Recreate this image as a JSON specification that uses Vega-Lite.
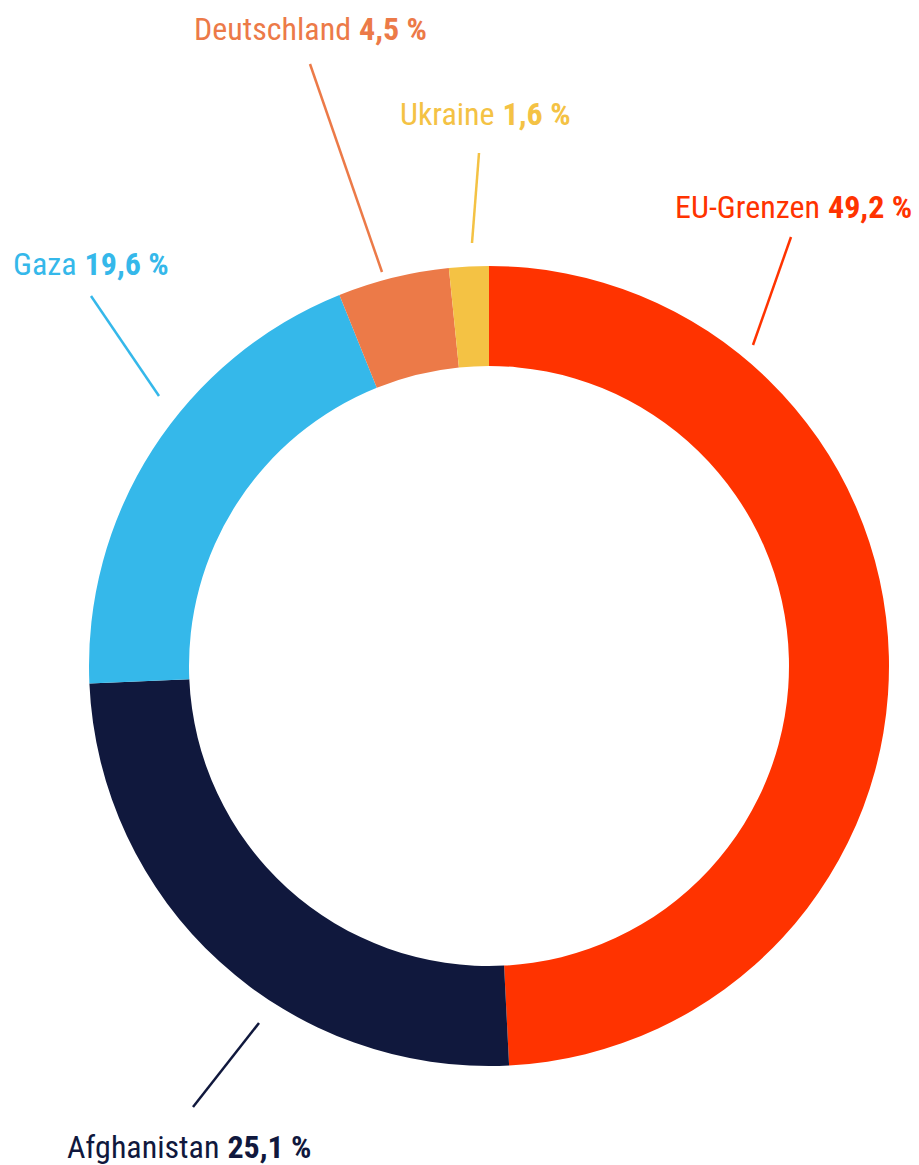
{
  "$schema": "https://vega.github.io/schema/vega-lite/v6.json",
  "width": 919,
  "height": 1165,
  "autosize": {"type": "fit", "contains": "padding"},
  "padding": 0,
  "background": "#ffffff",
  "config": {"view": {"stroke": null}},
  "datasets": {
    "slices": [
      {"region": "EU-Grenzen", "share": 49.2, "rank": 1},
      {"region": "Afghanistan", "share": 25.1, "rank": 2},
      {"region": "Gaza", "share": 19.6, "rank": 3},
      {"region": "Deutschland", "share": 4.5, "rank": 4},
      {"region": "Ukraine", "share": 1.6, "rank": 5}
    ],
    "labels": [
      {"region": "EU-Grenzen", "value": "49,2 %", "lx": 83.75, "ly": 112.0, "ax": 75.5, "ay": 107.25, "bx": 66.0, "by": 80.25},
      {"region": "Afghanistan", "value": "25,1 %", "lx": -66.4, "ly": -123.0, "ax": -57.5, "ay": -89.25, "bx": -74.0, "by": -110.25},
      {"region": "Gaza", "value": "19,6 %", "lx": -102.1, "ly": 97.75, "ax": -99.5, "ay": 92.5, "bx": -82.5, "by": 67.5},
      {"region": "Deutschland", "value": "4,5 %", "lx": -33.5, "ly": 156.5, "ax": -44.75, "ay": 150.5, "bx": -26.75, "by": 98.5},
      {"region": "Ukraine", "value": "1,6 %", "lx": 2.4, "ly": 135.25, "ax": -2.5, "ay": 128.25, "bx": -4.25, "by": 105.75}
    ]
  },
  "layer": [
    {
      "data": {"name": "slices"},
      "mark": {"type": "arc", "outerRadius": 400, "innerRadius": 300, "stroke": null},
      "encoding": {
        "theta": {"field": "share", "type": "quantitative", "stack": true},
        "order": {"field": "rank", "type": "quantitative"},
        "x": {"datum": 0, "type": "quantitative", "scale": {"domain": [-122.25, 107.5], "nice": false, "zero": false}, "axis": null},
        "y": {"datum": 0, "type": "quantitative", "scale": {"domain": [-124.75, 166.5], "nice": false, "zero": false}, "axis": null},
        "color": {
          "field": "region", "type": "nominal", "legend": null,
          "scale": {"domain": ["EU-Grenzen", "Afghanistan", "Gaza", "Deutschland", "Ukraine"], "range": ["#FF3300", "#10183D", "#35B8EA", "#EC7A48", "#F4C244"]}
        }
      }
    },
    {
      "data": {"name": "labels"},
      "mark": {"type": "rule", "strokeWidth": 2.5},
      "encoding": {
        "x": {"field": "ax", "type": "quantitative", "scale": {"domain": [-122.25, 107.5], "nice": false, "zero": false}, "axis": null},
        "y": {"field": "ay", "type": "quantitative", "scale": {"domain": [-124.75, 166.5], "nice": false, "zero": false}, "axis": null},
        "x2": {"field": "bx"},
        "y2": {"field": "by"},
        "color": {"field": "region", "type": "nominal", "legend": null}
      }
    },
    {
      "data": {"name": "labels"},
      "mark": {"type": "text", "align": "right", "baseline": "alphabetic", "dx": -4, "font": "Roboto Condensed, DejaVu Sans Condensed", "fontSize": 32, "fontWeight": "normal"},
      "encoding": {
        "x": {"field": "lx", "type": "quantitative", "scale": {"domain": [-122.25, 107.5], "nice": false, "zero": false}, "axis": null},
        "y": {"field": "ly", "type": "quantitative", "scale": {"domain": [-124.75, 166.5], "nice": false, "zero": false}, "axis": null},
        "text": {"field": "region", "type": "nominal"},
        "color": {"field": "region", "type": "nominal", "legend": null}
      }
    },
    {
      "data": {"name": "labels"},
      "mark": {"type": "text", "align": "left", "baseline": "alphabetic", "dx": 4, "font": "Roboto Condensed, DejaVu Sans Condensed", "fontSize": 32, "fontWeight": "bold"},
      "encoding": {
        "x": {"field": "lx", "type": "quantitative", "scale": {"domain": [-122.25, 107.5], "nice": false, "zero": false}, "axis": null},
        "y": {"field": "ly", "type": "quantitative", "scale": {"domain": [-124.75, 166.5], "nice": false, "zero": false}, "axis": null},
        "text": {"field": "value", "type": "nominal"},
        "color": {"field": "region", "type": "nominal", "legend": null}
      }
    }
  ]
}
